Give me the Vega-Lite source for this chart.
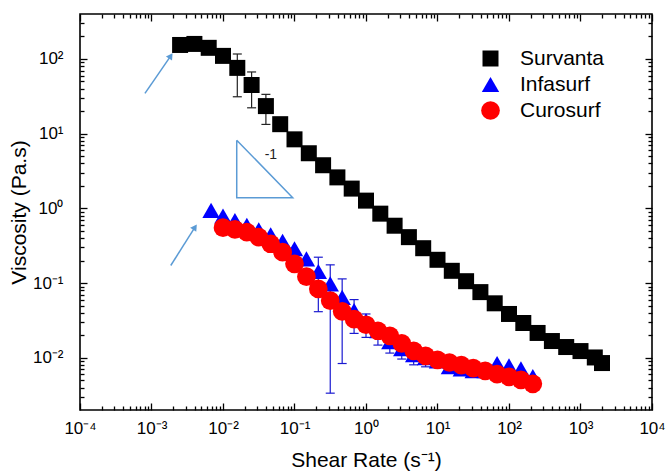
{
  "$schema": "https://vega.github.io/schema/vega-lite/v6.json",
  "width": 572,
  "height": 396,
  "autosize": {"type": "none"},
  "padding": {"left": 80, "top": 14, "right": 15, "bottom": 62},
  "background": "white",
  "datasets": {
    "pts": [
      {"series": "Survanta", "x": 0.002512, "y": 154},
      {"series": "Survanta", "x": 0.003981, "y": 159},
      {"series": "Survanta", "x": 0.00631, "y": 141},
      {"series": "Survanta", "x": 0.01, "y": 110},
      {"series": "Survanta", "x": 0.01585, "y": 76},
      {"series": "Survanta", "x": 0.02512, "y": 44.8},
      {"series": "Survanta", "x": 0.03981, "y": 23.4},
      {"series": "Survanta", "x": 0.0631, "y": 13.4},
      {"series": "Survanta", "x": 0.1, "y": 8.4},
      {"series": "Survanta", "x": 0.1585, "y": 5.47},
      {"series": "Survanta", "x": 0.2512, "y": 3.78},
      {"series": "Survanta", "x": 0.3981, "y": 2.6},
      {"series": "Survanta", "x": 0.631, "y": 1.84},
      {"series": "Survanta", "x": 1, "y": 1.27},
      {"series": "Survanta", "x": 1.585, "y": 0.85},
      {"series": "Survanta", "x": 2.512, "y": 0.586},
      {"series": "Survanta", "x": 3.981, "y": 0.412},
      {"series": "Survanta", "x": 6.31, "y": 0.293},
      {"series": "Survanta", "x": 10, "y": 0.205},
      {"series": "Survanta", "x": 15.85, "y": 0.146},
      {"series": "Survanta", "x": 25.12, "y": 0.106},
      {"series": "Survanta", "x": 39.81, "y": 0.0757},
      {"series": "Survanta", "x": 63.1, "y": 0.0536},
      {"series": "Survanta", "x": 100, "y": 0.0386},
      {"series": "Survanta", "x": 158.5, "y": 0.0292},
      {"series": "Survanta", "x": 251.2, "y": 0.0215},
      {"series": "Survanta", "x": 398.1, "y": 0.01676},
      {"series": "Survanta", "x": 631, "y": 0.01393},
      {"series": "Survanta", "x": 1000, "y": 0.0123},
      {"series": "Survanta", "x": 1585, "y": 0.0101},
      {"series": "Survanta", "x": 2000, "y": 0.0085},
      {"series": "Infasurf", "x": 0.00681, "y": 0.94},
      {"series": "Infasurf", "x": 0.01, "y": 0.789},
      {"series": "Infasurf", "x": 0.01468, "y": 0.69},
      {"series": "Infasurf", "x": 0.02154, "y": 0.592},
      {"series": "Infasurf", "x": 0.03162, "y": 0.518},
      {"series": "Infasurf", "x": 0.04642, "y": 0.444},
      {"series": "Infasurf", "x": 0.06813, "y": 0.364},
      {"series": "Infasurf", "x": 0.1, "y": 0.288},
      {"series": "Infasurf", "x": 0.1468, "y": 0.211},
      {"series": "Infasurf", "x": 0.2154, "y": 0.143},
      {"series": "Infasurf", "x": 0.3162, "y": 0.0975},
      {"series": "Infasurf", "x": 0.4642, "y": 0.0644},
      {"series": "Infasurf", "x": 0.6813, "y": 0.0428},
      {"series": "Infasurf", "x": 1, "y": 0.0314},
      {"series": "Infasurf", "x": 1.468, "y": 0.023},
      {"series": "Infasurf", "x": 2.154, "y": 0.0164},
      {"series": "Infasurf", "x": 3.162, "y": 0.0132},
      {"series": "Infasurf", "x": 4.642, "y": 0.011},
      {"series": "Infasurf", "x": 6.813, "y": 0.01},
      {"series": "Infasurf", "x": 10, "y": 0.0091},
      {"series": "Infasurf", "x": 14.68, "y": 0.0076},
      {"series": "Infasurf", "x": 21.54, "y": 0.0071},
      {"series": "Infasurf", "x": 31.62, "y": 0.0067},
      {"series": "Infasurf", "x": 46.42, "y": 0.0067},
      {"series": "Infasurf", "x": 68.13, "y": 0.0084},
      {"series": "Infasurf", "x": 100, "y": 0.0078},
      {"series": "Infasurf", "x": 146.8, "y": 0.0071},
      {"series": "Infasurf", "x": 215.4, "y": 0.0056},
      {"series": "Curosurf", "x": 0.01, "y": 0.551},
      {"series": "Curosurf", "x": 0.01468, "y": 0.523},
      {"series": "Curosurf", "x": 0.02154, "y": 0.481},
      {"series": "Curosurf", "x": 0.03162, "y": 0.412},
      {"series": "Curosurf", "x": 0.04642, "y": 0.336},
      {"series": "Curosurf", "x": 0.06813, "y": 0.259},
      {"series": "Curosurf", "x": 0.1, "y": 0.181},
      {"series": "Curosurf", "x": 0.1468, "y": 0.122},
      {"series": "Curosurf", "x": 0.2154, "y": 0.0835},
      {"series": "Curosurf", "x": 0.3162, "y": 0.0582},
      {"series": "Curosurf", "x": 0.4642, "y": 0.0418},
      {"series": "Curosurf", "x": 0.6813, "y": 0.033},
      {"series": "Curosurf", "x": 1, "y": 0.0277},
      {"series": "Curosurf", "x": 1.468, "y": 0.023},
      {"series": "Curosurf", "x": 2.154, "y": 0.0197},
      {"series": "Curosurf", "x": 3.162, "y": 0.0156},
      {"series": "Curosurf", "x": 4.642, "y": 0.0124},
      {"series": "Curosurf", "x": 6.813, "y": 0.0106},
      {"series": "Curosurf", "x": 10, "y": 0.0094},
      {"series": "Curosurf", "x": 14.68, "y": 0.00865},
      {"series": "Curosurf", "x": 21.54, "y": 0.00798},
      {"series": "Curosurf", "x": 31.62, "y": 0.00727},
      {"series": "Curosurf", "x": 46.42, "y": 0.0067},
      {"series": "Curosurf", "x": 68.13, "y": 0.00604},
      {"series": "Curosurf", "x": 100, "y": 0.00556},
      {"series": "Curosurf", "x": 146.8, "y": 0.00507},
      {"series": "Curosurf", "x": 215.4, "y": 0.00448}
    ],
    "err": [
      {"series": "Survanta", "x": 0.01585, "lo": 31.2, "hi": 116.6},
      {"series": "Survanta", "x": 0.02512, "lo": 22.2, "hi": 67},
      {"series": "Survanta", "x": 0.03981, "lo": 13.3, "hi": 33.6},
      {"series": "Infasurf", "x": 0.2154, "lo": 0.0414, "hi": 0.222},
      {"series": "Infasurf", "x": 0.3162, "lo": 0.00336, "hi": 0.1754},
      {"series": "Infasurf", "x": 0.4642, "lo": 0.00838, "hi": 0.1138},
      {"series": "Infasurf", "x": 0.6813, "lo": 0.0212, "hi": 0.0601},
      {"series": "Infasurf", "x": 1, "lo": 0.01875, "hi": 0.0386},
      {"series": "Infasurf", "x": 1.468, "lo": 0.01479, "hi": 0.0283},
      {"series": "Infasurf", "x": 2.154, "lo": 0.01156, "hi": 0.0217},
      {"series": "Infasurf", "x": 3.162, "lo": 0.00962, "hi": 0.0169},
      {"series": "Infasurf", "x": 4.642, "lo": 0.00805, "hi": 0.0145},
      {"series": "Infasurf", "x": 6.813, "lo": 0.00757, "hi": 0.0124}
    ],
    "arrows": [
      {"x": 0.00081, "y": 34.6, "x2": 0.00186, "y2": 110},
      {"x": 0.00186, "y": 0.172, "x2": 0.00406, "y2": 0.561}
    ],
    "slope": [
      {"i": 0, "x": 0.01556, "y": 8.19},
      {"i": 1, "x": 0.01556, "y": 1.39},
      {"i": 2, "x": 0.0944, "y": 1.39},
      {"i": 3, "x": 0.01556, "y": 8.19}
    ],
    "note": [
      {"x": 0.0468, "y": 5.14, "t": "-1"}
    ]
  },
  "layer": [
    {
      "data": {"name": "err"},
      "mark": {"type": "rule", "strokeWidth": 1.2},
      "encoding": {
        "x": {"field": "x", "type": "quantitative", "scale": {"type": "log", "domain": [0.0001, 10000], "nice": false}, "axis": null},
        "y": {"field": "lo", "type": "quantitative", "scale": {"type": "log", "domain": [0.002, 400], "nice": false}, "axis": null},
        "y2": {"field": "hi"},
        "color": {"condition": {"test": "datum.series === 'Survanta'", "value": "#222222"}, "value": "#1a1ad0"}
      }
    },
    {
      "data": {"name": "err"},
      "mark": {"type": "point", "shape": "stroke", "filled": false, "size": 81, "strokeWidth": 1.2, "opacity": 1},
      "encoding": {
        "x": {"field": "x", "type": "quantitative", "scale": {"type": "log", "domain": [0.0001, 10000], "nice": false}, "axis": null},
        "y": {"field": "lo", "type": "quantitative", "scale": {"type": "log", "domain": [0.002, 400], "nice": false}, "axis": null},
        "color": {"condition": {"test": "datum.series === 'Survanta'", "value": "#222222"}, "value": "#1a1ad0"}
      }
    },
    {
      "data": {"name": "err"},
      "mark": {"type": "point", "shape": "stroke", "filled": false, "size": 81, "strokeWidth": 1.2, "opacity": 1},
      "encoding": {
        "x": {"field": "x", "type": "quantitative", "scale": {"type": "log", "domain": [0.0001, 10000], "nice": false}, "axis": null},
        "y": {"field": "hi", "type": "quantitative", "scale": {"type": "log", "domain": [0.002, 400], "nice": false}, "axis": null},
        "color": {"condition": {"test": "datum.series === 'Survanta'", "value": "#222222"}, "value": "#1a1ad0"}
      }
    },
    {
      "data": {"name": "pts"},
      "mark": {"type": "point", "filled": true, "opacity": 1, "strokeWidth": 0},
      "encoding": {
        "x": {"field": "x", "type": "quantitative", "scale": {"type": "log", "domain": [0.0001, 10000], "nice": false}, "axis": null},
        "y": {"field": "y", "type": "quantitative", "scale": {"type": "log", "domain": [0.002, 400], "nice": false}, "axis": null},
        "color": {
          "field": "series", "type": "nominal",
          "scale": {"domain": ["Survanta", "Infasurf", "Curosurf"], "range": ["#000000", "#0000ff", "#ff0000"]},
          "legend": {"title": null, "orient": "none", "legendX": 400, "legendY": 34, "labelFontSize": 21, "labelFont": "Liberation Sans", "rowPadding": 4, "labelOffset": 19, "padding": 0, "symbolStrokeWidth": 0}
        },
        "shape": {
          "field": "series", "type": "nominal",
          "scale": {"domain": ["Survanta", "Infasurf", "Curosurf"], "range": ["square", "triangle-up", "circle"]},
          "legend": {"title": null, "orient": "none", "legendX": 400, "legendY": 34, "labelFontSize": 21, "labelFont": "Liberation Sans", "rowPadding": 4, "labelOffset": 19, "padding": 0, "symbolStrokeWidth": 0}
        },
        "size": {
          "field": "series", "type": "nominal",
          "scale": {"domain": ["Survanta", "Infasurf", "Curosurf"], "range": [256, 350, 262]},
          "legend": {"title": null, "orient": "none", "legendX": 400, "legendY": 34, "labelFontSize": 21, "labelFont": "Liberation Sans", "rowPadding": 4, "labelOffset": 19, "padding": 0, "symbolStrokeWidth": 0}
        }
      }
    },
    {
      "data": {"name": "slope"},
      "mark": {"type": "line", "color": "#5b9bd5", "strokeWidth": 1.5},
      "encoding": {
        "x": {"field": "x", "type": "quantitative", "scale": {"type": "log", "domain": [0.0001, 10000], "nice": false}, "axis": null},
        "y": {"field": "y", "type": "quantitative", "scale": {"type": "log", "domain": [0.002, 400], "nice": false}, "axis": null},
        "order": {"field": "i", "type": "quantitative"}
      }
    },
    {
      "data": {"name": "note"},
      "mark": {"type": "text", "font": "Liberation Sans", "fontSize": 14, "color": "#222222"},
      "encoding": {
        "x": {"field": "x", "type": "quantitative", "scale": {"type": "log", "domain": [0.0001, 10000], "nice": false}, "axis": null},
        "y": {"field": "y", "type": "quantitative", "scale": {"type": "log", "domain": [0.002, 400], "nice": false}, "axis": null},
        "text": {"field": "t"}
      }
    },
    {
      "data": {"name": "arrows"},
      "mark": {"type": "rule", "color": "#5b9bd5", "strokeWidth": 1.5},
      "encoding": {
        "x": {"field": "x", "type": "quantitative", "scale": {"type": "log", "domain": [0.0001, 10000], "nice": false}, "axis": null},
        "y": {"field": "y", "type": "quantitative", "scale": {"type": "log", "domain": [0.002, 400], "nice": false}, "axis": null},
        "x2": {"field": "x2"},
        "y2": {"field": "y2"}
      }
    },
    {
      "data": {"name": "arrows"},
      "mark": {"type": "point", "shape": "triangle-up", "filled": true, "color": "#5b9bd5", "size": 55, "angle": 34, "opacity": 1},
      "encoding": {
        "x": {"field": "x2", "type": "quantitative", "scale": {"type": "log", "domain": [0.0001, 10000], "nice": false}, "axis": null},
        "y": {"field": "y2", "type": "quantitative", "scale": {"type": "log", "domain": [0.002, 400], "nice": false}, "axis": null}
      }
    },
    {
      "data": {"name": "pts"},
      "mark": {"type": "point", "opacity": 0},
      "encoding": {
        "x": {"field": "x", "type": "quantitative", "scale": {"type": "log", "domain": [0.0001, 10000], "nice": false},
          "axis": {"orient": "bottom", "title": "Shear Rate (s⁻¹)", "values": [0.0001, 0.001, 0.01, 0.1, 1, 10, 100, 1000, 10000], "labelExpr": "'10' + ['⁻⁴','⁻³','⁻²','⁻¹','⁰','¹','²','³','⁴'][round(log(datum.value)/LN10)+4]", "tickSize": -7, "labelPadding": 17, "labelFlush": false, "labelOverlap": false, "titlePadding": 13}},
        "y": {"field": "y", "type": "quantitative", "scale": {"type": "log", "domain": [0.002, 400], "nice": false},
          "axis": {"orient": "left", "title": "Viscosity (Pa.s)", "values": [0.01, 0.1, 1, 10, 100], "labelExpr": "'10' + ['⁻⁴','⁻³','⁻²','⁻¹','⁰','¹','²','³','⁴'][round(log(datum.value)/LN10)+4]", "tickSize": -7, "labelPadding": 24, "labelFlush": false, "labelOverlap": false, "titlePadding": 3}}
      }
    },
    {
      "data": {"name": "pts"},
      "mark": {"type": "point", "opacity": 0},
      "encoding": {
        "x": {"field": "x", "type": "quantitative", "scale": {"type": "log", "domain": [0.0001, 10000], "nice": false},
          "axis": {"orient": "bottom", "title": null, "labels": false, "tickSize": -4, "values": [0.0002, 0.0003, 0.0004, 0.0005, 0.0006, 0.0007, 0.0008, 0.0009, 0.002, 0.003, 0.004, 0.005, 0.006, 0.007, 0.008, 0.009, 0.02, 0.03, 0.04, 0.05, 0.06, 0.07, 0.08, 0.09, 0.2, 0.3, 0.4, 0.5, 0.6, 0.7, 0.8, 0.9, 2, 3, 4, 5, 6, 7, 8, 9, 20, 30, 40, 50, 60, 70, 80, 90, 200, 300, 400, 500, 600, 700, 800, 900, 2000, 3000, 4000, 5000, 6000, 7000, 8000, 9000]}},
        "y": {"field": "y", "type": "quantitative", "scale": {"type": "log", "domain": [0.002, 400], "nice": false},
          "axis": {"orient": "left", "title": null, "labels": false, "tickSize": -4, "values": [0.003, 0.004, 0.005, 0.006, 0.007, 0.008, 0.009, 0.02, 0.03, 0.04, 0.05, 0.06, 0.07, 0.08, 0.09, 0.2, 0.3, 0.4, 0.5, 0.6, 0.7, 0.8, 0.9, 2, 3, 4, 5, 6, 7, 8, 9, 20, 30, 40, 50, 60, 70, 80, 90, 200, 300]}}
      }
    },
    {
      "data": {"name": "pts"},
      "mark": {"type": "point", "opacity": 0},
      "encoding": {
        "x": {"field": "x", "type": "quantitative", "scale": {"type": "log", "domain": [0.0001, 10000], "nice": false},
          "axis": {"orient": "top", "title": null, "labels": false, "tickSize": -7, "values": [0.0001, 0.001, 0.01, 0.1, 1, 10, 100, 1000, 10000]}},
        "y": {"field": "y", "type": "quantitative", "scale": {"type": "log", "domain": [0.002, 400], "nice": false},
          "axis": {"orient": "right", "title": null, "labels": false, "tickSize": -7, "values": [0.01, 0.1, 1, 10, 100]}}
      }
    },
    {
      "data": {"name": "pts"},
      "mark": {"type": "point", "opacity": 0},
      "encoding": {
        "x": {"field": "x", "type": "quantitative", "scale": {"type": "log", "domain": [0.0001, 10000], "nice": false},
          "axis": {"orient": "top", "title": null, "labels": false, "tickSize": -4, "values": [0.0002, 0.0003, 0.0004, 0.0005, 0.0006, 0.0007, 0.0008, 0.0009, 0.002, 0.003, 0.004, 0.005, 0.006, 0.007, 0.008, 0.009, 0.02, 0.03, 0.04, 0.05, 0.06, 0.07, 0.08, 0.09, 0.2, 0.3, 0.4, 0.5, 0.6, 0.7, 0.8, 0.9, 2, 3, 4, 5, 6, 7, 8, 9, 20, 30, 40, 50, 60, 70, 80, 90, 200, 300, 400, 500, 600, 700, 800, 900, 2000, 3000, 4000, 5000, 6000, 7000, 8000, 9000]}},
        "y": {"field": "y", "type": "quantitative", "scale": {"type": "log", "domain": [0.002, 400], "nice": false},
          "axis": {"orient": "right", "title": null, "labels": false, "tickSize": -4, "values": [0.003, 0.004, 0.005, 0.006, 0.007, 0.008, 0.009, 0.02, 0.03, 0.04, 0.05, 0.06, 0.07, 0.08, 0.09, 0.2, 0.3, 0.4, 0.5, 0.6, 0.7, 0.8, 0.9, 2, 3, 4, 5, 6, 7, 8, 9, 20, 30, 40, 50, 60, 70, 80, 90, 200, 300]}}
      }
    }
  ],
  "resolve": {"axis": {"x": "independent", "y": "independent"}},
  "config": {
    "font": "Liberation Sans",
    "view": {"stroke": "#000000", "strokeWidth": 1.6},
    "axis": {
      "grid": false,
      "domain": false,
      "ticks": true,
      "tickColor": "#000000",
      "tickWidth": 1.3,
      "labelFont": "Liberation Sans",
      "labelFontSize": 17,
      "labelColor": "#000000",
      "titleFont": "Liberation Sans",
      "titleFontSize": 21,
      "titleFontWeight": "normal",
      "titleColor": "#000000"
    },
    "legend": {"labelColor": "#000000"}
  }
}
